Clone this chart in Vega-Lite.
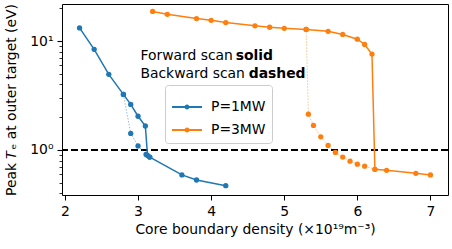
{
  "$schema": "https://vega.github.io/schema/vega-lite/v6.json",
  "width": 386,
  "height": 191,
  "autosize": {"type": "none"},
  "padding": {"left": 62, "top": 4, "right": 4, "bottom": 54},
  "background": "white",
  "config": {
    "font": "DejaVu Sans",
    "view": {"stroke": "black", "strokeWidth": 1},
    "axis": {
      "domain": false,
      "grid": false,
      "tickColor": "black",
      "labelColor": "black",
      "titleColor": "black",
      "labelFont": "DejaVu Sans",
      "titleFont": "DejaVu Sans",
      "labelFontSize": 13.9,
      "titleFontSize": 13.9,
      "titleFontWeight": "normal",
      "tickSize": 5,
      "tickWidth": 1,
      "labelPadding": 4
    },
    "legend": {
      "labelFontSize": 13.9,
      "labelFont": "DejaVu Sans",
      "labelColor": "black"
    }
  },
  "datasets": {
    "scan": [
      {"P": "P=1MW", "scan": "forward", "density": 2.2, "te": 13.2},
      {"P": "P=1MW", "scan": "forward", "density": 2.4, "te": 8.4},
      {"P": "P=1MW", "scan": "forward", "density": 2.6, "te": 4.95},
      {"P": "P=1MW", "scan": "forward", "density": 2.8, "te": 3.24},
      {"P": "P=1MW", "scan": "forward", "density": 2.9, "te": 2.62},
      {"P": "P=1MW", "scan": "forward", "density": 3.0, "te": 2.04},
      {"P": "P=1MW", "scan": "forward", "density": 3.1, "te": 1.66},
      {"P": "P=1MW", "scan": "forward", "density": 3.13, "te": 0.89},
      {"P": "P=1MW", "scan": "forward", "density": 3.16, "te": 0.86},
      {"P": "P=1MW", "scan": "forward", "density": 3.6, "te": 0.59},
      {"P": "P=1MW", "scan": "forward", "density": 3.8, "te": 0.53},
      {"P": "P=1MW", "scan": "forward", "density": 4.2, "te": 0.47},
      {"P": "P=1MW", "scan": "backward", "density": 2.8, "te": 3.24},
      {"P": "P=1MW", "scan": "backward", "density": 2.9, "te": 1.42},
      {"P": "P=1MW", "scan": "backward", "density": 3.0, "te": 1.09},
      {"P": "P=1MW", "scan": "backward", "density": 3.11, "te": 0.91},
      {"P": "P=1MW", "scan": "backward", "density": 3.16, "te": 0.86},
      {"P": "P=3MW", "scan": "forward", "density": 3.2, "te": 18.7},
      {"P": "P=3MW", "scan": "forward", "density": 3.4, "te": 17.6},
      {"P": "P=3MW", "scan": "forward", "density": 3.8, "te": 16.1},
      {"P": "P=3MW", "scan": "forward", "density": 4.0, "te": 15.5},
      {"P": "P=3MW", "scan": "forward", "density": 4.2, "te": 14.8},
      {"P": "P=3MW", "scan": "forward", "density": 4.6, "te": 13.8},
      {"P": "P=3MW", "scan": "forward", "density": 4.8, "te": 13.4},
      {"P": "P=3MW", "scan": "forward", "density": 5.0, "te": 13.1},
      {"P": "P=3MW", "scan": "forward", "density": 5.3, "te": 12.8},
      {"P": "P=3MW", "scan": "forward", "density": 5.6, "te": 12.3},
      {"P": "P=3MW", "scan": "forward", "density": 5.8, "te": 11.5},
      {"P": "P=3MW", "scan": "forward", "density": 6.0, "te": 10.4},
      {"P": "P=3MW", "scan": "forward", "density": 6.1, "te": 9.3},
      {"P": "P=3MW", "scan": "forward", "density": 6.2, "te": 7.6},
      {"P": "P=3MW", "scan": "forward", "density": 6.24, "te": 0.665},
      {"P": "P=3MW", "scan": "forward", "density": 6.4, "te": 0.65},
      {"P": "P=3MW", "scan": "forward", "density": 6.8, "te": 0.61},
      {"P": "P=3MW", "scan": "forward", "density": 7.0, "te": 0.59},
      {"P": "P=3MW", "scan": "backward", "density": 5.3, "te": 12.8},
      {"P": "P=3MW", "scan": "backward", "density": 5.33, "te": 2.13},
      {"P": "P=3MW", "scan": "backward", "density": 5.4, "te": 1.68},
      {"P": "P=3MW", "scan": "backward", "density": 5.5, "te": 1.32},
      {"P": "P=3MW", "scan": "backward", "density": 5.6, "te": 1.10},
      {"P": "P=3MW", "scan": "backward", "density": 5.7, "te": 0.95},
      {"P": "P=3MW", "scan": "backward", "density": 5.8, "te": 0.86},
      {"P": "P=3MW", "scan": "backward", "density": 5.9, "te": 0.79},
      {"P": "P=3MW", "scan": "backward", "density": 6.0, "te": 0.74},
      {"P": "P=3MW", "scan": "backward", "density": 6.1, "te": 0.71},
      {"P": "P=3MW", "scan": "backward", "density": 6.24, "te": 0.665}
    ],
    "notes": [
      {"part": "lead", "density": 3.033, "te": 7.33, "text": "Forward scan"},
      {"part": "key", "density": 4.337, "te": 7.33, "text": "solid"},
      {"part": "lead", "density": 3.033, "te": 4.94, "text": "Backward scan"},
      {"part": "key", "density": 4.514, "te": 4.94, "text": "dashed"}
    ],
    "threshold": [{"te": 1}]
  },
  "encoding": {
    "x": {
      "field": "density", "type": "quantitative",
      "scale": {"domain": [1.96, 7.24], "nice": false, "zero": false},
      "axis": {"values": [2, 3, 4, 5, 6, 7], "title": "Core boundary density (×10¹⁹m⁻³)", "titlePadding": 5}
    },
    "y": {
      "field": "te", "type": "quantitative",
      "scale": {"type": "log", "domain": [0.386, 21.9], "nice": false},
      "axis": {
        "values": [0.4, 0.5, 0.6, 0.7, 0.8, 0.9, 1, 2, 3, 4, 5, 6, 7, 8, 9, 10, 20],
        "labelExpr": "datum.value == 1 ? '10⁰' : (datum.value == 10 ? '10¹' : '')",
        "tickSize": {"condition": {"test": "datum.value == 1 || datum.value == 10", "value": 5}, "value": 3},
        "tickWidth": {"condition": {"test": "datum.value == 1 || datum.value == 10", "value": 1.1}, "value": 0.8},
        "title": "Peak 𝑇ₑ at outer target (eV)",
        "titleX": -51,
        "titleBaseline": "middle"
      }
    },
    "color": {"field": "P", "type": "nominal",
      "scale": {"domain": ["P=1MW", "P=3MW"], "range": ["#1f77b4", "#ff7f0e"]},
      "legend": {
        "title": null,
        "orient": "none",
        "legendX": 103,
        "legendY": 81,
        "direction": "vertical",
        "fillColor": "white",
        "strokeColor": "#cccccc",
        "cornerRadius": 3,
        "padding": 6,
        "symbolType": "M-1,0L1,0M0.1,0A0.1,0.1,0,1,1,-0.1,0A0.1,0.1,0,1,1,0.1,0Z",
        "symbolSize": 900,
        "symbolStrokeWidth": 2,
        "labelOffset": 8,
        "rowPadding": -6,
        "encode": {"symbols": {"update": {"fill": {"scale": "color", "field": "value"}, "stroke": {"scale": "color", "field": "value"}}}}
      }
    }
  },
  "layer": [
    {
      "data": {"name": "threshold"},
      "mark": {"type": "rule", "color": "black", "strokeWidth": 2, "strokeDash": [7, 3]},
      "encoding": {"x": null, "color": null}
    },
    {
      "data": {"name": "scan"},
      "transform": [{"filter": "datum.scan == 'backward'"}],
      "mark": {"type": "line", "strokeWidth": 0.8, "strokeDash": [1.5, 1.5], "opacity": 0.6},
      "encoding": {"detail": {"field": "scan"}}
    },
    {
      "data": {"name": "scan"},
      "transform": [{"filter": "datum.scan == 'backward'"}],
      "mark": {"type": "point", "filled": true, "size": 28, "opacity": 1}
    },
    {
      "data": {"name": "scan"},
      "transform": [{"filter": "datum.scan == 'forward'"}],
      "mark": {"type": "line", "strokeWidth": 1.5},
      "encoding": {"detail": {"field": "scan"}}
    },
    {
      "data": {"name": "scan"},
      "transform": [{"filter": "datum.scan == 'forward'"}],
      "mark": {"type": "point", "filled": true, "size": 28, "opacity": 1}
    },
    {
      "data": {"name": "notes"},
      "transform": [{"filter": "datum.part == 'lead'"}],
      "mark": {"type": "text", "align": "left", "baseline": "middle", "fontSize": 13.9, "font": "DejaVu Sans", "color": "black"},
      "encoding": {"text": {"field": "text"}, "color": null}
    },
    {
      "data": {"name": "notes"},
      "transform": [{"filter": "datum.part == 'key'"}],
      "mark": {"type": "text", "align": "left", "baseline": "middle", "fontSize": 13.9, "font": "DejaVu Sans", "fontWeight": "bold", "color": "black"},
      "encoding": {"text": {"field": "text"}, "color": null}
    }
  ]
}
